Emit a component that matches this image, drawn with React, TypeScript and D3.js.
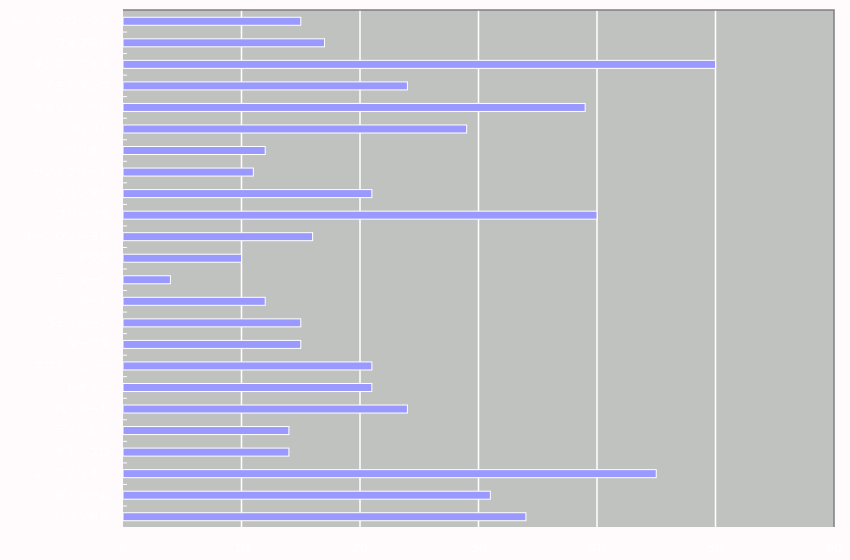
import React from "react";
import * as d3 from "d3";

const categories = [
  "レグナ・クロックス", "フィブネル", "キュネ・フォス", "アモルダシフ",
  "キュリア・ベル", "ベリット", "ヴリオン", "ゼノ・ブリード",
  "ヴルンダラ", "ブリックス", "オーンヴィーラル", "ヘドクス",
  "テンターク", "マーム", "ヴェミルーン", "ターブス",
  "ネフトジェンー", "レキュー", "バ・メート", "ディアルテ",
  "ギア・ブロ", "エ・フェリオン", "ダ・カーム", "バランセル",
];
const values = [15, 17, 50, 24, 39, 29, 12, 11, 21, 40, 16, 10, 4, 12, 15, 15, 21, 21, 24, 14, 14, 45, 31, 34];
const xTicks = [0, 10, 20, 30, 40, 50, 60];

export default function App() {
  const W = 850, H = 560;
  const left = 123, right = 834, top = 10, bottom = 527;
  const x = d3.scaleLinear().domain([0, 60]).range([left, right]);
  const y = d3.scaleBand<string>().domain(categories).range([top, bottom]);
  const barH = 8;
  return (
    <svg width={W} height={H} style={{ position: "absolute", left: 0, top: 0 }}>
      <rect x={0} y={0} width={W} height={H} fill="#fffbfc" />
      <rect x={left} y={top} width={right - left} height={bottom - top} fill="#c0c2c0" />
      {xTicks.slice(1, -1).map((t) => (
        <line key={t} x1={x(t)} x2={x(t)} y1={top} y2={bottom} stroke="#ffffff" strokeWidth={1.5} />
      ))}
      {categories.slice(1).map((c) => (
        <line key={c} x1={left} x2={left + 4} y1={y(c)! + 0.5} y2={y(c)! + 0.5} stroke="#ffffff" strokeWidth={1} />
      ))}
      {categories.map((c, i) => (
        <rect
          key={c}
          x={x(0)}
          y={y(c)! + y.bandwidth() / 2 - barH / 2 + 0.5}
          width={x(values[i]) - x(0)}
          height={barH}
          fill="#9999ff"
          stroke="#ffffff"
          strokeWidth={1}
        />
      ))}
      <polyline
        points={`${left},${top} ${right},${top} ${right},${bottom}`}
        fill="none"
        stroke="#808080"
        strokeWidth={1.5}
      />
      {categories.map((c) => (
        <text
          key={c}
          x={110}
          y={y(c)! + y.bandwidth() / 2 + 0.5}
          dy="0.35em"
          textAnchor="end"
          fill="#ffffff"
          fontSize={11}
          fontFamily="'Noto Sans CJK JP', sans-serif"
        >
          {c}
        </text>
      ))}
      {xTicks.map((t) => (
        <text
          key={t}
          x={x(t)}
          y={552}
          textAnchor="middle"
          fill="#ffffff"
          fontSize={13}
          fontFamily="'DejaVu Sans', sans-serif"
        >
          {t}
        </text>
      ))}
    </svg>
  );
}
